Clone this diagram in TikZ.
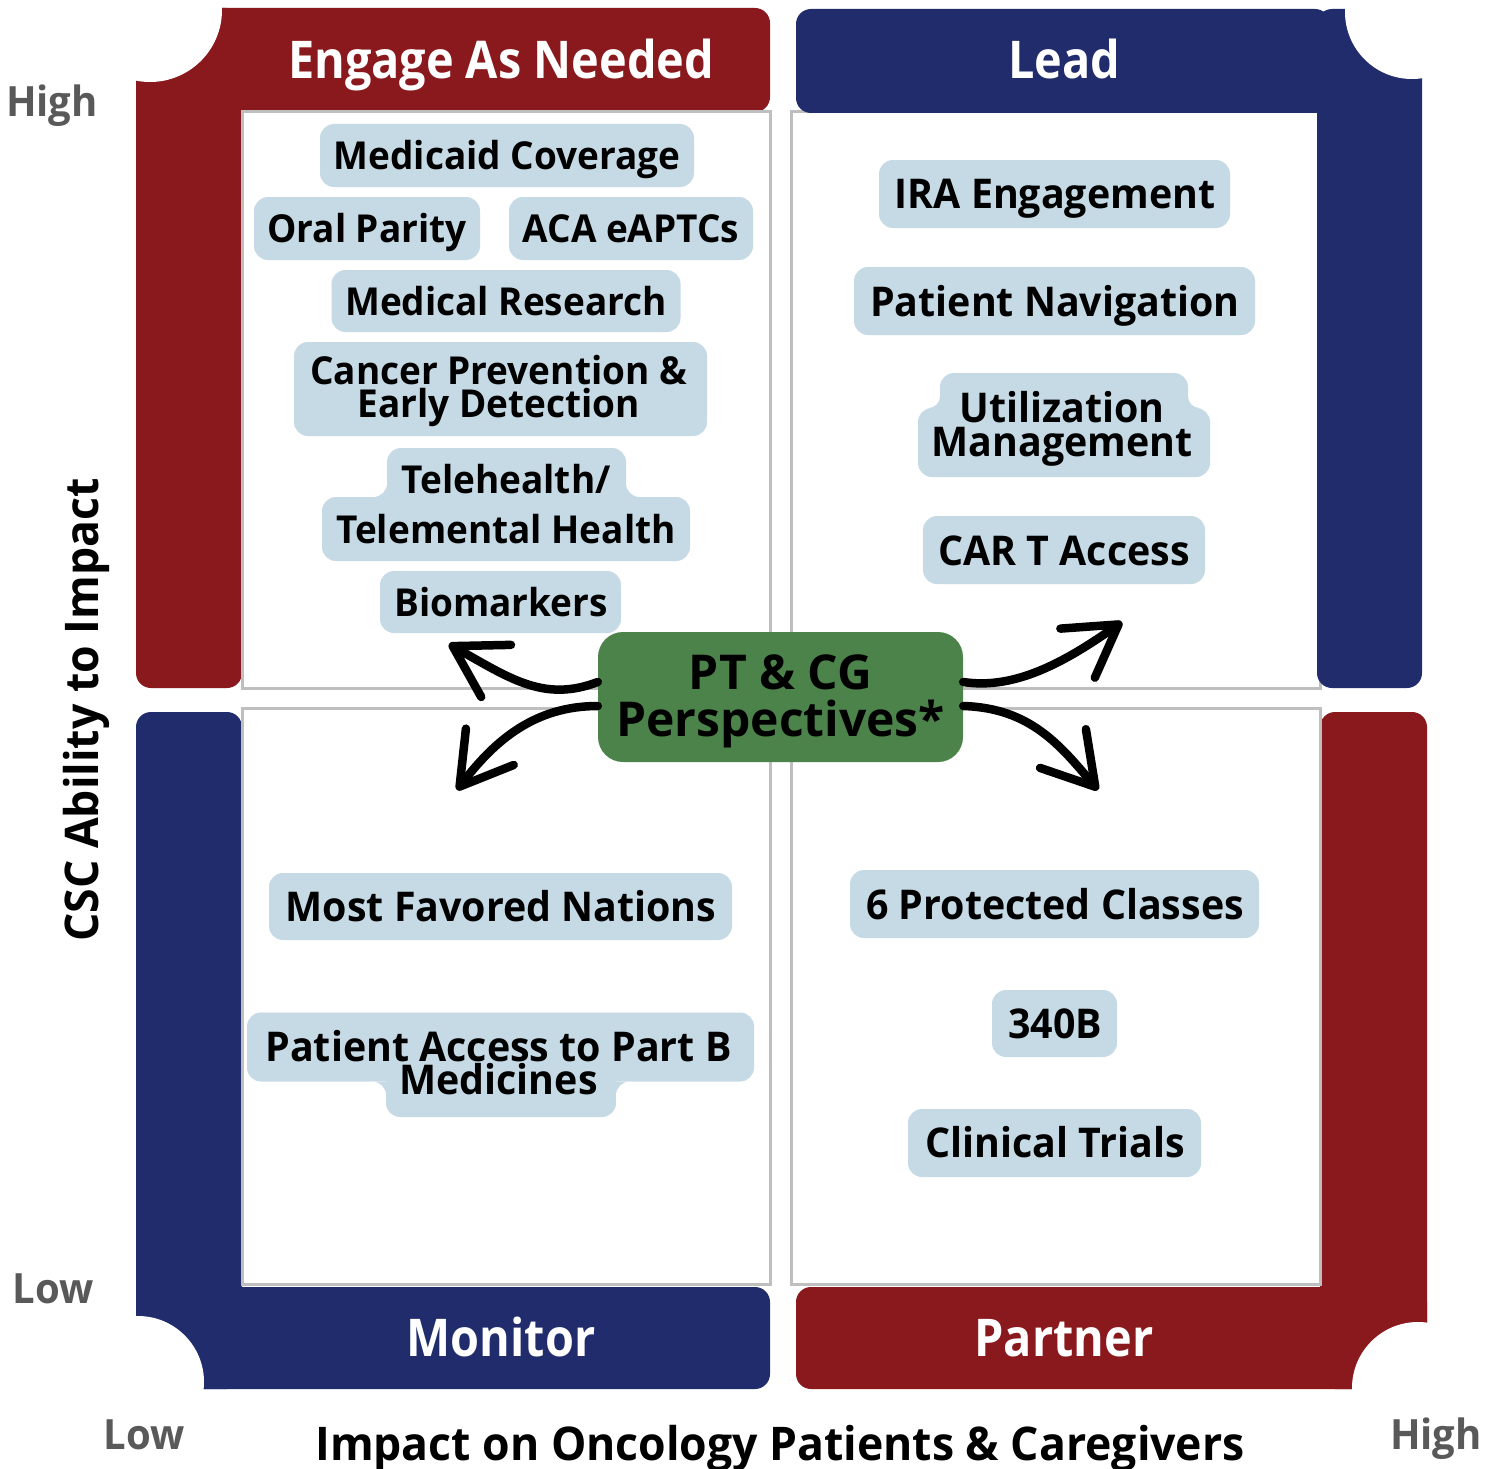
\documentclass[tikz,border=0pt]{standalone}
\usepackage{fontspec}
\setmainfont{Open Sans}
\newfontfamily\pfont{Open Sans}[FakeStretch=0.96]
\newfontfamily\tfont{Open Sans}[FakeStretch=0.9]
\usetikzlibrary{arrows.meta,calc}
\definecolor{cred}{HTML}{8A191D}
\definecolor{cblue}{HTML}{212C6D}
\definecolor{cpill}{HTML}{C6DAE5}
\definecolor{cgreen}{HTML}{4B834A}
\definecolor{cgrid}{HTML}{BFBFBF}
\definecolor{caxis}{HTML}{595959}
\tikzset{
  band/.style={rounded corners=15pt},
  qbox/.style={draw=cgrid, line width=3pt, fill=white},
  title/.style={anchor=base, inner sep=0pt, text=white, font=\tfont\fontsize{52pt}{56pt}\selectfont\bfseries},
  pill/.style={fill=cpill, rounded corners=14pt, inner sep=0pt},
  tltext/.style={anchor=base, inner sep=0pt, font=\pfont\fontsize{38.5pt}{40pt}\selectfont\bfseries},
  ptext/.style={anchor=base, inner sep=0pt, font=\pfont\fontsize{41pt}{42pt}\selectfont\bfseries},
  twoline/.style={anchor=south, inner sep=0pt, align=center, text depth=0pt},
  axis/.style={anchor=base, inner sep=0pt, text=caxis, font=\pfont\fontsize{41.7pt}{44pt}\selectfont\bfseries},
  axtitle/.style={anchor=base, inner sep=0pt, text=black, font=\pfont\fontsize{46.4pt}{48pt}\selectfont\bfseries},
  center box/.style={fill=cgreen, rounded corners=25pt, inner sep=0pt,
    minimum width=365pt, minimum height=130pt},
  gtext/.style={inner sep=0pt, font=\fontsize{48pt}{47pt}\selectfont\bfseries},
  flow/.style={line width=8.5pt, line cap=round, -{Straight Barb[length=50pt,width=60pt,round]}}
}
\newcommand{\filletUL}[3]{% corner point x,y ; radius: fillet up-left of the point
  \fill[cpill] (#1-#3,#2-#3) rectangle (#1,#2);
  \fill[white] (#1-#3,#2-#3) circle (#3);}
\newcommand{\filletUR}[3]{%
  \fill[cpill] (#1,#2-#3) rectangle (#1+#3,#2);
  \fill[white] (#1+#3,#2-#3) circle (#3);}
\newcommand{\filletDL}[3]{%
  \fill[cpill] (#1-#3,#2) rectangle (#1,#2+#3);
  \fill[white] (#1-#3,#2+#3) circle (#3);}
\newcommand{\filletDR}[3]{%
  \fill[cpill] (#1,#2) rectangle (#1+#3,#2+#3);
  \fill[white] (#1+#3,#2+#3) circle (#3);}
\begin{document}
\begin{tikzpicture}[x=1pt,y=-1pt]
\useasboundingbox (0,0) rectangle (1499,1469);
% ---- bands (red / blue L shapes)
% top-left red
\fill[cred,band] (136,8) rectangle (770,112);
\fill[cred,band] (136,8) rectangle (242,688);
\fill[white] (150,10) circle (72);
% bottom-left blue
\fill[cblue,band] (136,712) rectangle (242,1389);
\fill[cblue,band] (136,1287) rectangle (770,1389);
\fill[white] (138,1382) circle (66);
% bottom-right red
\fill[cred,band] (1320,712) rectangle (1427,1389);
\fill[cred,band] (796,1287) rectangle (1427,1389);
\fill[white] (1418,1388) circle (66);
% ---- quadrant boxes
\draw[qbox] (242,112) rectangle (770,688);
\draw[qbox] (791,112) rectangle (1320,688);
\draw[qbox] (242,708) rectangle (770,1284);
\draw[qbox] (791,708) rectangle (1320,1284);
% top-right blue
\fill[cblue,band] (796,9) rectangle (1330,113);
\fill[cblue,band] (1317,9) rectangle (1422,688);
\fill[white] (1412,12) circle (67);
% ---- titles
\node[title] (tEng) at (501,78.5) {Engage As Needed};
\node[title] (tLead) at (1064,78.5) {Lead};
\node[title] (tMon) at (501,1356.5) {Monitor};
\node[title] (tPart) at (1064,1356.5) {Partner};
% ---- axis labels
\node[axis] (yHigh) at (52,117) {High};
\node[axis] (yLow) at (53,1303) {Low};
\node[axis] (xLow) at (144,1449) {Low};
\node[axis] (xHigh) at (1436,1449) {High};
\node[axtitle, rotate=90] (yTitle) at (98,710) {CSC Ability to Impact};
\node[axtitle] (xTitle) at (780,1460) {Impact on Oncology Patients \& Caregivers};
% ---- top-left pills
\node[pill, minimum width=374pt, minimum height=63pt] (mc) at (507,155.5) {};
\node[tltext] (mcT) at (507,169.5) {Medicaid Coverage};
\node[pill, minimum width=226pt, minimum height=63pt] (op) at (367,228.5) {};
\node[tltext] (opT) at (367,242.5) {Oral Parity};
\node[pill, minimum width=244pt, minimum height=63pt] (aca) at (631,228.5) {};
\node[tltext] (acaT) at (631,242.5) {ACA eAPTCs};
\node[pill, minimum width=349pt, minimum height=62pt] (mr) at (506,301) {};
\node[tltext] (mrT) at (506,315) {Medical Research};
\node[pill, minimum width=413pt, minimum height=94pt] (cp) at (500.5,389) {};
\node[tltext, twoline, font=\pfont\fontsize{38.5pt}{33pt}\selectfont\bfseries] (cpT) at (498.5,418) {Cancer Prevention \&\\Early Detection};
\node[pill, minimum width=368pt, minimum height=64pt] (th2) at (506,529) {};
\node[pill, minimum width=239pt, minimum height=62pt] (th1) at (506.5,479) {};
\filletUL{387}{497}{14}
\filletUR{626}{497}{14}
\node[tltext] (thT1) at (506,493) {Telehealth/};
\node[tltext] (thT2) at (506,543) {Telemental Health};
\node[pill, minimum width=241pt, minimum height=62pt] (bio) at (500.5,602) {};
\node[tltext] (bioT) at (501,616) {Biomarkers};
% ---- top-right pills
\node[pill, minimum width=351pt, minimum height=68pt] (ira) at (1054.5,194) {};
\node[ptext] (iraT) at (1055,208.5) {IRA Engagement};
\node[pill, minimum width=401pt, minimum height=68pt] (pn) at (1054.5,301) {};
\node[ptext] (pnT) at (1055,316) {Patient Navigation};
\node[pill, minimum width=292pt, minimum height=69pt] (um2) at (1064,442.5) {};
\node[pill, minimum width=248pt, minimum height=66pt] (um1) at (1064,406) {};
\filletUL{940}{408}{12}
\filletUR{1188}{408}{12}
\node[ptext, twoline, font=\pfont\fontsize{41pt}{34pt}\selectfont\bfseries] (umT) at (1062,457) {Utilization\\Management};
\node[pill, minimum width=282pt, minimum height=68pt] (car) at (1064,550) {};
\node[ptext] (carT) at (1064,565) {CAR T Access};
% ---- bottom-left pills
\node[pill, minimum width=463pt, minimum height=67pt] (mfn) at (500.5,906.5) {};
\node[ptext] (mfnT) at (501,921.5) {Most Favored Nations};
\node[pill, minimum width=230pt, minimum height=66pt] (pa2) at (501,1084) {};
\node[pill, minimum width=507pt, minimum height=69pt] (pa1) at (500.5,1047) {};
\filletDL{386}{1081.5}{14}
\filletDR{616}{1081.5}{14}
\node[ptext, twoline, font=\pfont\fontsize{41pt}{33pt}\selectfont\bfseries] (paT) at (498.5,1095) {Patient Access to Part B\\Medicines};
% ---- bottom-right pills
\node[pill, minimum width=409pt, minimum height=68pt] (pc) at (1054.5,904) {};
\node[ptext] (pcT) at (1055,919) {6 Protected Classes};
\node[pill, minimum width=125pt, minimum height=67pt] (b340) at (1054.5,1023.5) {};
\node[ptext] (b340T) at (1055,1038) {340B};
\node[pill, minimum width=293pt, minimum height=68pt] (ct) at (1054.5,1143) {};
\node[ptext] (ctT) at (1055,1157.5) {Clinical Trials};
% ---- center node and arrows
\node[center box] (g) at (780.5,697) {};
\node[gtext, twoline] (gT) at (780.5,737) {PT \& CG\\Perspectives*};
\coordinate (tul) at (449,644);
\coordinate (tll) at (457,790);
\coordinate (tur) at (1122,622);
\coordinate (tlr) at (1098,790);
\draw[flow] ($(g.west)+(0,-15)$) .. controls (545,702) and (512,680) .. (tul);
\draw[flow] ($(g.west)+(0,9)$) .. controls (535,706) and (495,740) .. (tll);
\draw[flow] ($(g.east)+(0,-15)$) .. controls (1015,690) and (1065,662) .. (tur);
\draw[flow] ($(g.east)+(0,9)$) .. controls (1030,708) and (1060,745) .. (tlr);
\end{tikzpicture}
\end{document}
